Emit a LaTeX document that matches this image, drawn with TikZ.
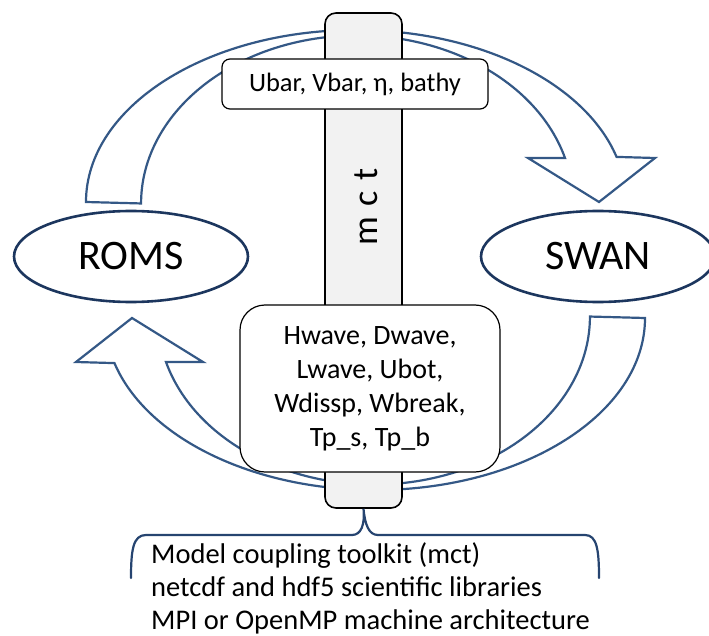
\documentclass[tikz,border=0pt]{standalone}
\usepackage{fontspec}
\setmainfont{Carlito}
\usetikzlibrary{shapes.geometric}

\definecolor{arrowblue}{RGB}{52,88,134}
\definecolor{modelblue}{RGB}{28,54,94}
\definecolor{braceblue}{RGB}{38,68,112}
\definecolor{barfill}{RGB}{242,242,242}

% Curved block arrow running from ROMS over the top to SWAN
\newcommand{\couplingarrow}{%
  \path[flowarrow] (86,202)
    arc[start angle=180, end angle=344.8, x radius=270, y radius=172]
    -- (655,158) -- (599,202) -- (528,158) -- (565,158)
    arc[start angle=344.3, end angle=180, x radius=216, y radius=168]
    -- cycle;}

\begin{document}
\begin{tikzpicture}[x=1pt, y=-1pt,
  flowarrow/.style={draw=arrowblue, line width=2.2pt, fill=white, line join=miter},
  model/.style={ellipse, draw=modelblue, line width=2.6pt, fill=white,
    minimum width=234pt, minimum height=91pt, inner sep=0pt,
    font=\fontsize{42}{50}\selectfont},
  couplerbar/.style={draw=black, line width=1.6pt, fill=barfill,
    rounded corners=11pt, minimum width=77pt, minimum height=495pt, inner sep=0pt},
  databox/.style={draw=black, line width=1.2pt, fill=white, inner sep=0pt, align=center},
  bracetext/.style={anchor=base west, inner sep=0pt, font=\fontsize{28.5}{34}\selectfont},
  bracelink/.style={draw=braceblue, line width=2.2pt, line cap=round}
]
\useasboundingbox (0,0) rectangle (709,636);

% exchange arrows, behind the coupler bar
\couplingarrow
\begin{scope}[rotate around={180:(365.5,260)}]
  \couplingarrow
\end{scope}

% coupler bar
\node[couplerbar] (mct) at (363.5,260.5) {};
\node[rotate=90, anchor=base, inner sep=0pt, font=\fontsize{36}{43}\selectfont]
  (mctlabel) at (377,207) {m\hspace{0.3em}c\hspace{0.3em}t};

% models
\node[model] (roms) at (131,256.5) {ROMS};
\node[model] (swan) at (598,256.5) {SWAN};

% exchanged fields
\node[databox, rounded corners=8pt, minimum width=266pt, minimum height=50pt,
  font=\fontsize{26.5}{32}\selectfont] (ocean) at (355,84) {Ubar, Vbar, η, bathy};
\node[databox, rounded corners=25pt, minimum width=260pt, minimum height=167pt,
  font=\fontsize{28}{34}\selectfont] (waves) at (370,388.5)
  {Hwave, Dwave,\\ Lwave, Ubot,\\ Wdissp, Wbreak,\\ Tp\_s, Tp\_b};

% supporting software
\coordinate (braceL) at (131,578);
\coordinate (braceR) at (599,578);
\draw[bracelink] (braceL) .. controls (131,550) and (133,535) .. (146,535)
  -- (352,535) .. controls (361,535) and (365,525) .. (mct.south)
  .. controls (365,525) and (369,535) .. (378,535)
  -- (585,535) .. controls (597,535) and (599,550) .. (braceR);
\node[bracetext] (lib1) at (151,563) {Model coupling toolkit (mct)};
\node[bracetext] (lib2) at (151,596) {netcdf and hdf5 scientific libraries};
\node[bracetext] (lib3) at (151,629) {MPI or OpenMP machine architecture};
\end{tikzpicture}
\end{document}
